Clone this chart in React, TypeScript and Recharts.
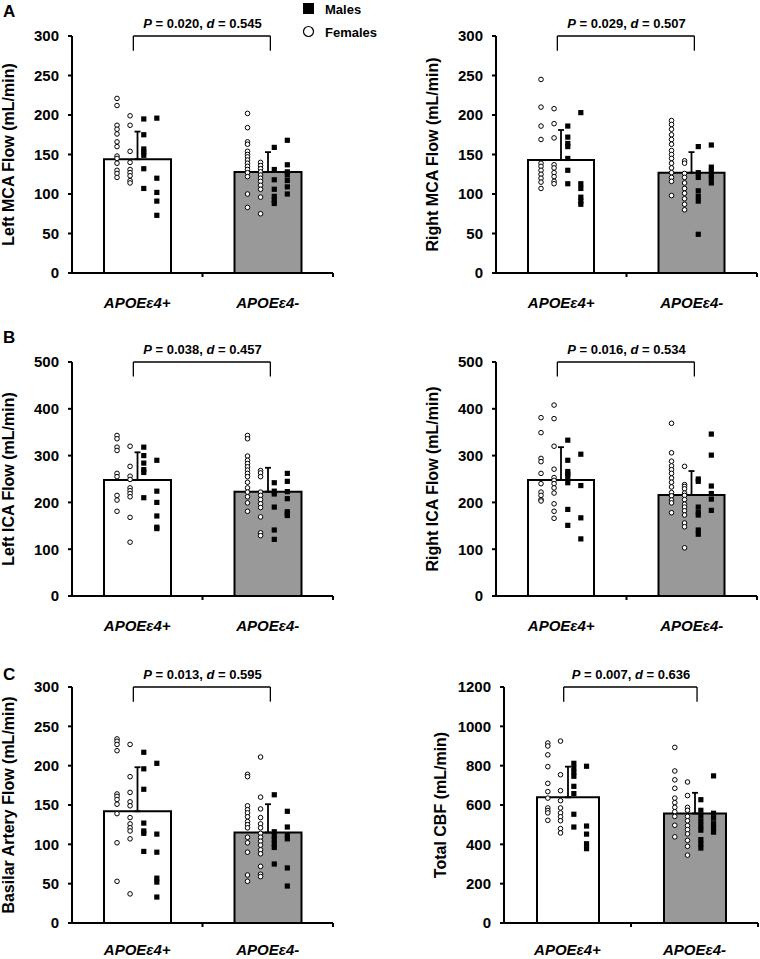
import React from 'react'
import { ComposedChart, Bar, Cell, ErrorBar, Scatter, XAxis, YAxis, ReferenceLine } from 'recharts'

const GROUPS = ['APOEε4+', 'APOEε4-']

const ticks300 = [0, 50, 100, 150, 200, 250, 300]
const ticks500 = [0, 100, 200, 300, 400, 500]
const ticks1200 = [0, 200, 400, 600, 800, 1000, 1200]

// Left MCA
const leftMcaMeans = [144, 128]
const leftMcaSd = [35, 25]
const leftMcaPosF = [[221, 212, 187, 182, 176, 166, 160, 148, 145, 139, 130, 126, 121], [199, 187, 154, 140, 131, 127, 123, 117, 114]]
const leftMcaPosM = [[195, 175, 157, 153, 149, 132, 107], [196, 120, 102, 91, 73]]
const leftMcaNegF = [[202, 184, 166, 163, 154, 150, 147, 143, 139, 135, 131, 127, 122, 100, 83], [140, 136, 132, 128, 124, 120, 116, 111, 106, 96, 75]]
const leftMcaNegM = [[159, 131, 118, 106, 97, 92, 88], [168, 137, 128, 124, 117, 109, 100]]

// Right MCA
const rightMcaMeans = [143, 127]
const rightMcaSd = [38, 26]
const rightMcaPosF = [[245, 210, 186, 169, 139, 135, 130, 125, 120, 115, 107], [208, 189, 171, 137, 133, 127, 122, 116, 113]]
const rightMcaPosM = [[186, 172, 164, 160, 145, 130, 113], [203, 113, 107, 96, 91, 87]]
const rightMcaNegF = [[193, 188, 182, 175, 169, 163, 155, 150, 145, 139, 133, 127, 121, 116, 98], [142, 139, 126, 121, 114, 107, 101, 94, 87, 80]]
const rightMcaNegM = [[160, 127, 121, 104, 97, 91, 49], [162, 134, 129, 124, 120, 114]]

// Left ICA
const leftIcaMeans = [248, 223]
const leftIcaSd = [59, 51]
const leftIcaPosF = [[343, 336, 318, 311, 262, 255, 215, 205, 181], [320, 277, 256, 249, 231, 225, 219, 212, 168, 115]]
const leftIcaPosM = [[318, 300, 284, 270, 264, 210], [290, 224, 200, 171, 147, 144]]
const leftIcaNegF = [[343, 336, 299, 290, 283, 276, 269, 262, 255, 243, 231, 222, 212, 199, 181], [268, 263, 255, 222, 215, 206, 197, 189, 169, 135, 129]]
const leftIcaNegM = [[242, 224, 218, 190, 141, 121], [262, 245, 223, 208, 180, 176, 172]]

// Right ICA
const rightIcaMeans = [248, 216]
const rightIcaSd = [70, 51]
const rightIcaPosF = [[381, 349, 294, 287, 262, 240, 222, 215, 206, 203], [408, 379, 320, 271, 253, 247, 240, 231, 220, 197, 181, 166]]
const rightIcaPosM = [[333, 290, 266, 261, 255, 242, 185, 151], [303, 236, 167, 122]]
const rightIcaNegF = [[369, 306, 288, 278, 270, 262, 252, 243, 233, 221, 214, 205, 199, 178], [277, 238, 234, 229, 220, 215, 206, 196, 190, 182, 173, 156, 148, 103]]
const rightIcaNegM = [[250, 245, 190, 179, 173, 141, 132], [346, 301, 235, 219, 207, 183]]

// Basilar
const basilarMeans = [142, 115]
const basilarSd = [56, 36]
const basilarPosF = [[234, 231, 227, 219, 164, 161, 157, 151, 139, 102, 53], [227, 186, 166, 154, 149, 134, 126, 121, 117, 107, 37]]
const basilarPosM = [[217, 196, 170, 127, 117, 114, 91], [203, 113, 90, 57, 52, 33]]
const basilarNegF = [[189, 186, 149, 144, 140, 135, 129, 125, 121, 109, 102, 90, 61, 53], [211, 160, 145, 134, 126, 121, 114, 109, 104, 99, 93, 88, 72, 62, 59]]
const basilarNegM = [[163, 116, 111, 106, 101, 96, 75], [142, 122, 112, 107, 70, 47]]

// Total CBF
const cbfMeans = [639, 557]
const cbfSd = [156, 105]
const cbfPosF = [[915, 900, 855, 795, 710, 668, 635, 585, 572, 560, 522], [925, 754, 673, 622, 585, 560, 540, 520, 480, 458]]
const cbfPosM = [[812, 788, 766, 746, 695, 658, 553, 488], [797, 493, 452, 403, 378]]
const cbfNegF = [[893, 773, 728, 685, 635, 612, 588, 566, 542, 497, 438], [717, 648, 588, 573, 542, 520, 495, 475, 453, 420, 390, 345]]
const cbfNegM = [[627, 573, 543, 517, 493, 472, 424, 402, 381], [748, 558, 533, 505, 482, 462]]

// layout / style
const FONT = '"Liberation Sans", Arial, Helvetica, sans-serif'
const BAR_FILLS = ['#ffffff', '#999999']
const FEMALE_COLS = [-0.155, -0.055]
const MALE_COLS = [0.05, 0.15]
const Y_AXIS_W = 72
const TOP_PAD = 20
const PAGE_H = 959

const panels = [
  { key: 'lmca', title: 'Left MCA Flow (mL/min)', p: '0.020', d: '0.545', ticks: ticks300, means: leftMcaMeans, sd: leftMcaSd, posF: leftMcaPosF, posM: leftMcaPosM, negF: leftMcaNegF, negM: leftMcaNegM, axisX: 72, plotRight: 333, chartRight: 380, top: 36, bottom: 273, barSize: 67 },
  { key: 'rmca', title: 'Right MCA Flow (mL/min)', p: '0.029', d: '0.507', ticks: ticks300, means: rightMcaMeans, sd: rightMcaSd, posF: rightMcaPosF, posM: rightMcaPosM, negF: rightMcaNegF, negM: rightMcaNegM, axisX: 496, plotRight: 757, chartRight: 760, top: 36, bottom: 273, barSize: 66 },
  { key: 'lica', title: 'Left ICA Flow (mL/min)', p: '0.038', d: '0.457', ticks: ticks500, means: leftIcaMeans, sd: leftIcaSd, posF: leftIcaPosF, posM: leftIcaPosM, negF: leftIcaNegF, negM: leftIcaNegM, axisX: 72, plotRight: 333, chartRight: 380, top: 362, bottom: 596, barSize: 67 },
  { key: 'rica', title: 'Right ICA Flow (mL/min)', p: '0.016', d: '0.534', ticks: ticks500, means: rightIcaMeans, sd: rightIcaSd, posF: rightIcaPosF, posM: rightIcaPosM, negF: rightIcaNegF, negM: rightIcaNegM, axisX: 496, plotRight: 757, chartRight: 760, top: 362, bottom: 596, barSize: 66 },
  { key: 'ba', title: 'Basilar Artery Flow (mL/min)', p: '0.013', d: '0.595', ticks: ticks300, means: basilarMeans, sd: basilarSd, posF: basilarPosF, posM: basilarPosM, negF: basilarNegF, negM: basilarNegM, axisX: 72, plotRight: 333, chartRight: 380, top: 687, bottom: 923, barSize: 67 },
  { key: 'cbf', title: 'Total CBF (mL/min)', p: '0.007', d: '0.636', ticks: ticks1200, means: cbfMeans, sd: cbfSd, posF: cbfPosF, posM: cbfPosM, negF: cbfNegF, negM: cbfNegM, axisX: 504, plotRight: 758, chartRight: 760, top: 687, bottom: 923, barSize: 62 },
]

const femaleShape = (p: any) => <circle cx={p.cx} cy={p.cy} r={2.3} fill="#fff" stroke="#000" strokeWidth={1} />
const maleShape = (p: any) => <rect x={p.cx - 2.6} y={p.cy - 2.6} width={5.2} height={5.2} fill="#000" />

const CatTick = (props: any) => {
  const { x, y, payload, labelDy } = props
  const half = payload && payload.offset ? payload.offset : 0
  return (
    <g>
      <line x1={x + half} x2={x + half} y1={y} y2={y + 4} stroke="#000" strokeWidth={2} />
      <text x={x} y={y + labelDy} textAnchor="middle" fontSize={15} fontWeight="bold" fontStyle="italic" fill="#000" fontFamily={FONT}>
        {payload.value}
      </text>
    </g>
  )
}

function toPoints(groups: number[][][], cols: number[]) {
  const pts: { x: number; y: number }[] = []
  groups.forEach((colsOfGroup, gi) => {
    colsOfGroup.forEach((vals, ci) => {
      vals.forEach(v => pts.push({ x: gi + 0.5 + cols[ci], y: v }))
    })
  })
  return pts
}

function Panel({ cfg }: { cfg: any }) {
  const max = cfg.ticks[cfg.ticks.length - 1]
  const barData = GROUPS.map((g, i) => ({ name: g, mean: cfg.means[i], err: [0, cfg.sd[i]] }))
  const females = toPoints([cfg.posF, cfg.negF], FEMALE_COLS)
  const males = toPoints([cfg.posM, cfg.negM], MALE_COLS)
  const chartLeft = cfg.axisX - Y_AXIS_W
  const width = cfg.chartRight - chartLeft
  const marginRight = width - (cfg.plotRight - chartLeft)
  const xAxisH = Math.min(46, PAGE_H - cfg.bottom)
  const labelDy = Math.min(35, PAGE_H - cfg.bottom - 4)
  const height = TOP_PAD + (cfg.bottom - cfg.top) + xAxisH
  const drop = max * 0.062

  return (
    <div style={{ position: 'absolute', left: chartLeft, top: cfg.top - TOP_PAD }}>
      <ComposedChart width={width} height={height} data={barData} margin={{ top: TOP_PAD, right: marginRight, bottom: 0, left: 0 }}>
        <XAxis
          xAxisId="cat"
          dataKey="name"
          height={xAxisH}
          interval={0}
          tickLine={false}
          tickSize={0}
          tickMargin={0}
          axisLine={{ stroke: '#000', strokeWidth: 2 }}
          tick={<CatTick labelDy={labelDy} />}
        />
        <XAxis xAxisId="num" type="number" dataKey="x" domain={[0, 2]} allowDataOverflow hide orientation="top" height={0} />
        <YAxis
          domain={[0, max]}
          ticks={cfg.ticks}
          width={Y_AXIS_W}
          allowDataOverflow
          tickSize={4}
          tickMargin={9}
          axisLine={{ stroke: '#000', strokeWidth: 2 }}
          tickLine={{ stroke: '#000', strokeWidth: 2 }}
          tick={{ fill: '#000', fontSize: 15, fontWeight: 'bold', fontFamily: FONT }}
          label={{
            value: cfg.title,
            angle: -90,
            position: 'insideLeft',
            offset: 8,
            style: { textAnchor: 'middle', fontSize: 16, fontWeight: 'bold', fill: '#000', fontFamily: FONT },
          }}
        />
        <Bar xAxisId="cat" dataKey="mean" barSize={cfg.barSize} stroke="#000" strokeWidth={2} isAnimationActive={false}>
          {barData.map((_, i) => (
            <Cell key={`cell-${i}`} fill={BAR_FILLS[i]} />
          ))}
          <ErrorBar dataKey="err" direction="y" width={3} stroke="#000" strokeWidth={1.8} isAnimationActive={false} />
        </Bar>
        <Scatter xAxisId="num" data={females} dataKey="y" shape={femaleShape} isAnimationActive={false} />
        <Scatter xAxisId="num" data={males} dataKey="y" shape={maleShape} isAnimationActive={false} />
        <ReferenceLine xAxisId="num" segment={[{ x: 0.47, y: max }, { x: 1.52, y: max }]} stroke="#000" strokeWidth={1.3} />
        <ReferenceLine xAxisId="num" segment={[{ x: 0.47, y: max }, { x: 0.47, y: max - drop }]} stroke="#000" strokeWidth={1.3} />
        <ReferenceLine xAxisId="num" segment={[{ x: 1.52, y: max }, { x: 1.52, y: max - drop }]} stroke="#000" strokeWidth={1.3} />
      </ComposedChart>
    </div>
  )
}

export default function App() {
  return (
    <div style={{ position: 'absolute', left: 0, top: 0, width: 760, height: PAGE_H, background: '#fff', overflow: 'hidden', fontFamily: FONT }}>
      {panels.map(cfg => (
        <Panel key={cfg.key} cfg={cfg} />
      ))}
      <svg width={760} height={PAGE_H} style={{ position: 'absolute', left: 0, top: 0, pointerEvents: 'none' }} fontFamily={FONT}>
        <text x={3} y={17} fontSize={17} fontWeight="bold" fill="#000">A</text>
        <text x={3} y={342.5} fontSize={17} fontWeight="bold" fill="#000">B</text>
        <text x={3} y={680} fontSize={17} fontWeight="bold" fill="#000">C</text>

        <rect x={303} y={3} width={11} height={11} fill="#000" />
        <text x={325} y={13.5} fontSize={13} fontWeight="bold" fill="#000">Males</text>
        <circle cx={308.5} cy={31.5} r={5} fill="#fff" stroke="#000" strokeWidth={1.2} />
        <text x={325} y={36.5} fontSize={13} fontWeight="bold" fill="#000">Females</text>

        {panels.map(cfg => (
          <text key={`p-${cfg.key}`} x={(cfg.axisX + cfg.plotRight) / 2} y={cfg.top - 8} textAnchor="middle" fontSize={13} fontWeight="bold" fill="#000">
            <tspan fontStyle="italic">P</tspan> = {cfg.p}, <tspan fontStyle="italic">d</tspan> = {cfg.d}
          </text>
        ))}
      </svg>
    </div>
  )
}
